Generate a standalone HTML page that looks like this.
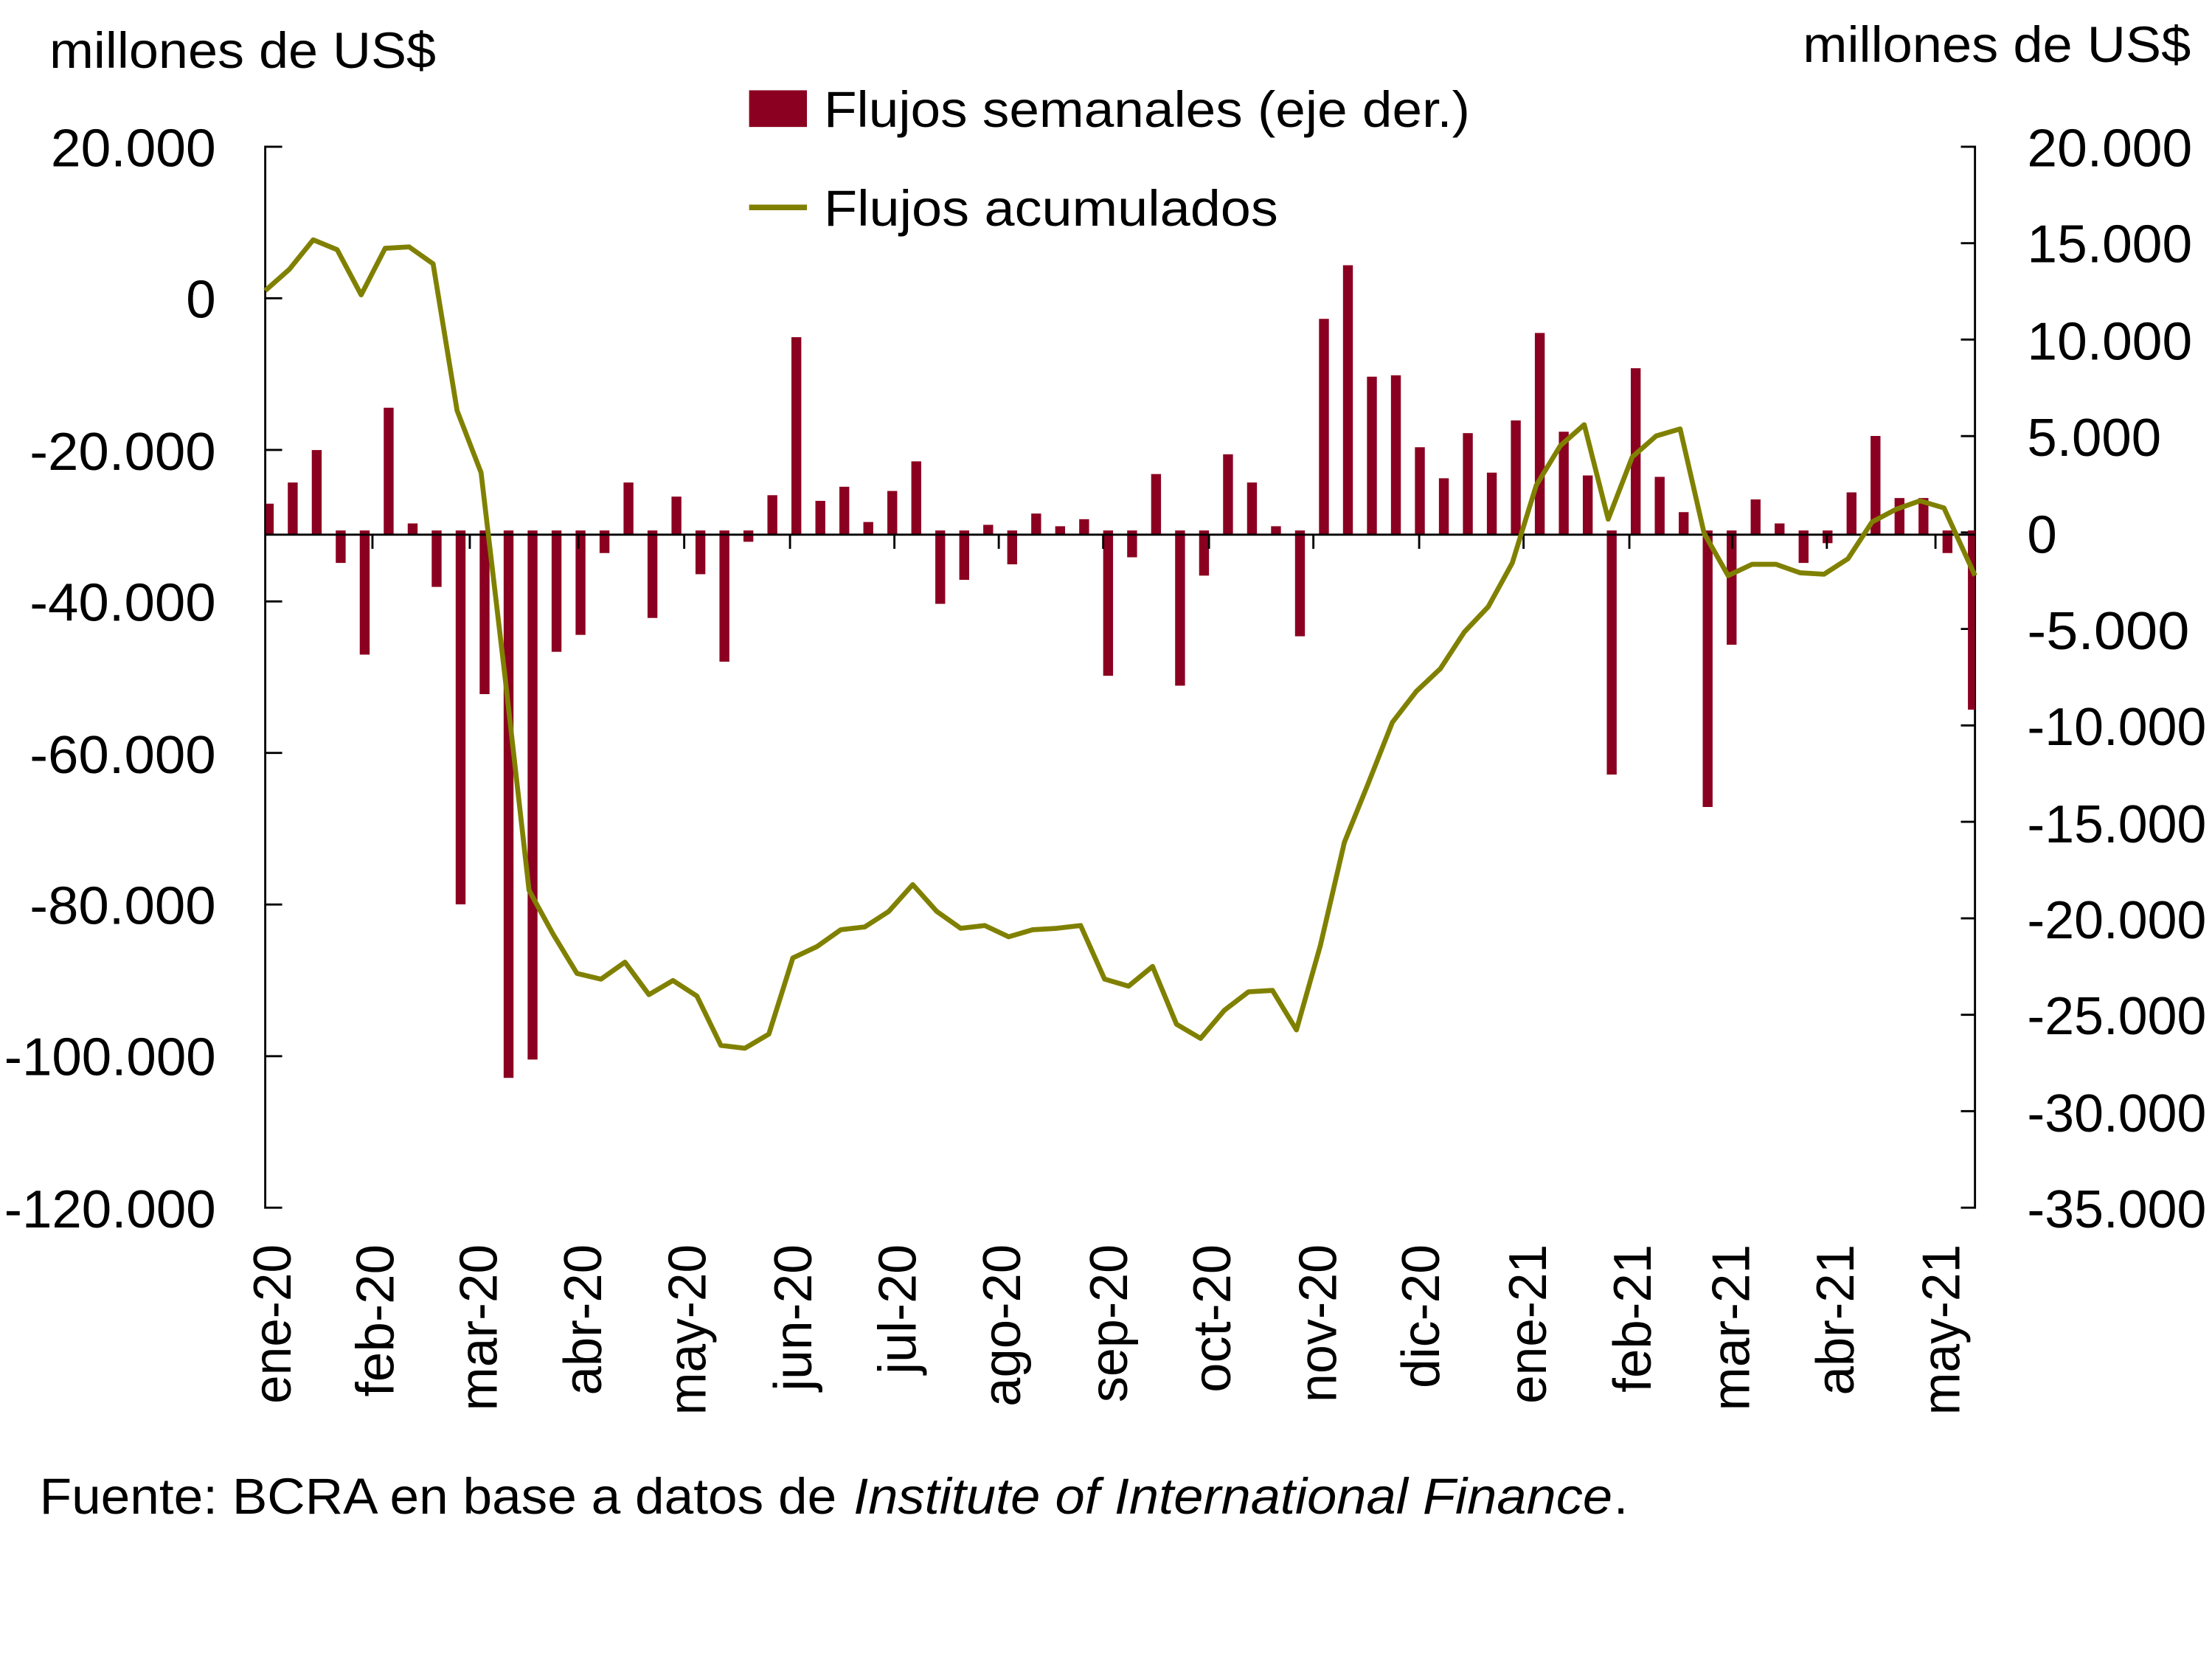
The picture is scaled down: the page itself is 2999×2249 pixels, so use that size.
<!DOCTYPE html>
<html><head><meta charset="utf-8"><style>
html,body{margin:0;padding:0;background:#fff;}
svg{display:block;}
text{font-family:"Liberation Sans",sans-serif;fill:#000;}
</style></head><body>
<svg width="2999" height="2249" viewBox="0 0 1568 1175.9" xmlns="http://www.w3.org/2000/svg">
<rect width="1568" height="1176" fill="#fff"/>
<text x="35" y="48" font-size="36" textLength="274" lengthAdjust="spacingAndGlyphs">millones de US$</text>
<text x="1278" y="44" font-size="36" textLength="275" lengthAdjust="spacingAndGlyphs">millones de US$</text>
<rect x="531" y="64" width="41" height="26" fill="#8b0020"/>
<text x="584" y="90" font-size="36" textLength="458" lengthAdjust="spacingAndGlyphs">Flujos semanales (eje der.)</text>
<line x1="531" y1="147" x2="572" y2="147" stroke="#808000" stroke-width="4"/>
<text x="584" y="160" font-size="36" textLength="322" lengthAdjust="spacingAndGlyphs">Flujos acumulados</text>
<g font-size="38" text-anchor="end">
<text x="153" y="118" textLength="117" lengthAdjust="spacingAndGlyphs">20.000</text>
<text x="153" y="225">0</text>
<text x="153" y="333" textLength="132" lengthAdjust="spacingAndGlyphs">-20.000</text>
<text x="153" y="440" textLength="132" lengthAdjust="spacingAndGlyphs">-40.000</text>
<text x="153" y="548" textLength="132" lengthAdjust="spacingAndGlyphs">-60.000</text>
<text x="153" y="655" textLength="132" lengthAdjust="spacingAndGlyphs">-80.000</text>
<text x="153" y="762" textLength="150" lengthAdjust="spacingAndGlyphs">-100.000</text>
<text x="153" y="870" textLength="150" lengthAdjust="spacingAndGlyphs">-120.000</text>
</g>
<g font-size="38">
<text x="1437" y="118" textLength="117" lengthAdjust="spacingAndGlyphs">20.000</text>
<text x="1437" y="186" textLength="117" lengthAdjust="spacingAndGlyphs">15.000</text>
<text x="1437" y="255" textLength="117" lengthAdjust="spacingAndGlyphs">10.000</text>
<text x="1437" y="323" textLength="95" lengthAdjust="spacingAndGlyphs">5.000</text>
<text x="1437" y="392">0</text>
<text x="1437" y="460" textLength="115" lengthAdjust="spacingAndGlyphs">-5.000</text>
<text x="1437" y="528" textLength="127" lengthAdjust="spacingAndGlyphs">-10.000</text>
<text x="1437" y="597" textLength="127" lengthAdjust="spacingAndGlyphs">-15.000</text>
<text x="1437" y="665" textLength="127" lengthAdjust="spacingAndGlyphs">-20.000</text>
<text x="1437" y="733" textLength="127" lengthAdjust="spacingAndGlyphs">-25.000</text>
<text x="1437" y="802" textLength="127" lengthAdjust="spacingAndGlyphs">-30.000</text>
<text x="1437" y="870" textLength="127" lengthAdjust="spacingAndGlyphs">-35.000</text>
</g>
<g stroke="#000" stroke-width="1.5" fill="none">
<path d="M200 104H188V856H200 M188 211.4H200 M188 318.9H200 M188 426.3H200 M188 533.7H200 M188 641.1H200 M188 748.6H200"/>
<path d="M1390 104H1400V856H1390 M1390 172.4H1400 M1390 240.7H1400 M1390 309.1H1400 M1390 377.4H1400 M1390 445.8H1400 M1390 514.2H1400 M1390 582.5H1400 M1390 650.9H1400 M1390 719.3H1400 M1390 787.6H1400"/>
</g>
<g fill="#8b0020">
<rect x="188.5" y="357" width="5.5" height="22"/>
<rect x="204" y="342" width="7" height="37"/>
<rect x="221" y="319" width="7" height="60"/>
<rect x="238" y="376" width="7" height="23"/>
<rect x="255" y="376" width="7" height="88"/>
<rect x="272" y="289" width="7" height="90"/>
<rect x="289" y="371" width="7" height="8"/>
<rect x="306" y="376" width="7" height="40"/>
<rect x="323" y="376" width="7" height="265"/>
<rect x="340" y="376" width="7" height="116"/>
<rect x="357" y="376" width="7" height="388"/>
<rect x="374" y="376" width="7" height="375"/>
<rect x="391" y="376" width="7" height="86"/>
<rect x="408" y="376" width="7" height="74"/>
<rect x="425" y="376" width="7" height="16"/>
<rect x="442" y="342" width="7" height="37"/>
<rect x="459" y="376" width="7" height="62"/>
<rect x="476" y="352" width="7" height="27"/>
<rect x="493" y="376" width="7" height="31"/>
<rect x="510" y="376" width="7" height="93"/>
<rect x="527" y="376" width="7" height="8"/>
<rect x="544" y="351" width="7" height="28"/>
<rect x="561" y="239" width="7" height="140"/>
<rect x="578" y="355" width="7" height="24"/>
<rect x="595" y="345" width="7" height="34"/>
<rect x="612" y="370" width="7" height="9"/>
<rect x="629" y="348" width="7" height="31"/>
<rect x="646" y="327" width="7" height="52"/>
<rect x="663" y="376" width="7" height="52"/>
<rect x="680" y="376" width="7" height="35"/>
<rect x="697" y="372" width="7" height="7"/>
<rect x="714" y="376" width="7" height="24"/>
<rect x="731" y="364" width="7" height="15"/>
<rect x="748" y="373" width="7" height="6"/>
<rect x="765" y="368" width="7" height="11"/>
<rect x="782" y="376" width="7" height="103"/>
<rect x="799" y="376" width="7" height="19"/>
<rect x="816" y="336" width="7" height="43"/>
<rect x="833" y="376" width="7" height="110"/>
<rect x="850" y="376" width="7" height="32"/>
<rect x="867" y="322" width="7" height="57"/>
<rect x="884" y="342" width="7" height="37"/>
<rect x="901" y="373" width="7" height="6"/>
<rect x="918" y="376" width="7" height="75"/>
<rect x="935" y="226" width="7" height="153"/>
<rect x="952" y="188" width="7" height="191"/>
<rect x="969" y="267" width="7" height="112"/>
<rect x="986" y="266" width="7" height="113"/>
<rect x="1003" y="317" width="7" height="62"/>
<rect x="1020" y="339" width="7" height="40"/>
<rect x="1037" y="307" width="7" height="72"/>
<rect x="1054" y="335" width="7" height="44"/>
<rect x="1071" y="298" width="7" height="81"/>
<rect x="1088" y="236" width="7" height="143"/>
<rect x="1105" y="306" width="7" height="73"/>
<rect x="1122" y="337" width="7" height="42"/>
<rect x="1139" y="376" width="7" height="173"/>
<rect x="1156" y="261" width="7" height="118"/>
<rect x="1173" y="338" width="7" height="41"/>
<rect x="1190" y="363" width="7" height="16"/>
<rect x="1207" y="376" width="7" height="196"/>
<rect x="1224" y="376" width="7" height="81"/>
<rect x="1241" y="354" width="7" height="25"/>
<rect x="1258" y="371" width="7" height="8"/>
<rect x="1275" y="376" width="7" height="23"/>
<rect x="1292" y="376" width="7" height="9"/>
<rect x="1309" y="349" width="7" height="30"/>
<rect x="1326" y="309" width="7" height="70"/>
<rect x="1343" y="353" width="7" height="26"/>
<rect x="1360" y="353" width="7" height="26"/>
<rect x="1377" y="376" width="7" height="16"/>
<rect x="1395" y="376" width="5" height="127"/>
</g>
<g stroke="#000" stroke-width="1.5">
<line x1="188" y1="379" x2="1400" y2="379"/>
<path d="M264 379V389 M333 379V389 M410 379V389 M485 379V389 M560 379V389 M634 379V389 M708 379V389 M782 379V389 M857 379V389 M931 379V389 M1006 379V389 M1080 379V389 M1155 379V389 M1228 379V389 M1295 379V389 M1372 379V389"/>
</g>
<polyline fill="none" stroke="#808000" stroke-width="3.5" stroke-linejoin="round" points="188,206 205,191 222,170 239,177 256,209 273,176 290,175 307,187 324,291 341,335 358,480 375,631 392,662 409,690 426,694 443,682 460,705 477,695 494,706 511,741 528,743 545,733 562,679 579,671 596,659 613,657 630,646 647,627 664,646 681,658 698,656 715,664 732,659 749,658 766,656 783,694 800,699 817,685 834,726 851,736 868,716 885,703 902,702 919,730 936,670 953,597 970,555 987,512 1004,490 1021,474 1038,448 1055,430 1072,399 1089,344 1106,316 1123,301 1140,368 1157,324 1174,309 1191,304 1208,378 1225,408 1242,400 1259,400 1276,406 1293,407 1310,396 1327,370 1344,361 1361,355 1378,360 1400,408"/>
<g font-size="38" text-anchor="end">
<text transform="translate(206,882) rotate(-90)" textLength="113" lengthAdjust="spacingAndGlyphs">ene-20</text>
<text transform="translate(279,882) rotate(-90)" textLength="108" lengthAdjust="spacingAndGlyphs">feb-20</text>
<text transform="translate(352,882) rotate(-90)" textLength="118" lengthAdjust="spacingAndGlyphs">mar-20</text>
<text transform="translate(426,882) rotate(-90)" textLength="107" lengthAdjust="spacingAndGlyphs">abr-20</text>
<text transform="translate(500,882) rotate(-90)" textLength="121" lengthAdjust="spacingAndGlyphs">may-20</text>
<text transform="translate(575,882) rotate(-90)" textLength="104" lengthAdjust="spacingAndGlyphs">jun-20</text>
<text transform="translate(649,882) rotate(-90)" textLength="92" lengthAdjust="spacingAndGlyphs">jul-20</text>
<text transform="translate(723,882) rotate(-90)" textLength="115" lengthAdjust="spacingAndGlyphs">ago-20</text>
<text transform="translate(799,882) rotate(-90)" textLength="112" lengthAdjust="spacingAndGlyphs">sep-20</text>
<text transform="translate(872,882) rotate(-90)" textLength="105" lengthAdjust="spacingAndGlyphs">oct-20</text>
<text transform="translate(947,882) rotate(-90)" textLength="112" lengthAdjust="spacingAndGlyphs">nov-20</text>
<text transform="translate(1020,882) rotate(-90)" textLength="102" lengthAdjust="spacingAndGlyphs">dic-20</text>
<text transform="translate(1096,882) rotate(-90)" textLength="113" lengthAdjust="spacingAndGlyphs">ene-21</text>
<text transform="translate(1170,882) rotate(-90)" textLength="105" lengthAdjust="spacingAndGlyphs">feb-21</text>
<text transform="translate(1240,882) rotate(-90)" textLength="118" lengthAdjust="spacingAndGlyphs">mar-21</text>
<text transform="translate(1314,882) rotate(-90)" textLength="107" lengthAdjust="spacingAndGlyphs">abr-21</text>
<text transform="translate(1389,882) rotate(-90)" textLength="121" lengthAdjust="spacingAndGlyphs">may-21</text>
</g>
<text x="28" y="1073" font-size="36" textLength="565" lengthAdjust="spacingAndGlyphs">Fuente: BCRA en base a datos de</text>
<text x="605" y="1073" font-size="36" font-style="italic" textLength="538" lengthAdjust="spacingAndGlyphs">Institute of International Finance</text>
<text x="1144" y="1073" font-size="36">.</text>
</svg>
</body></html>
